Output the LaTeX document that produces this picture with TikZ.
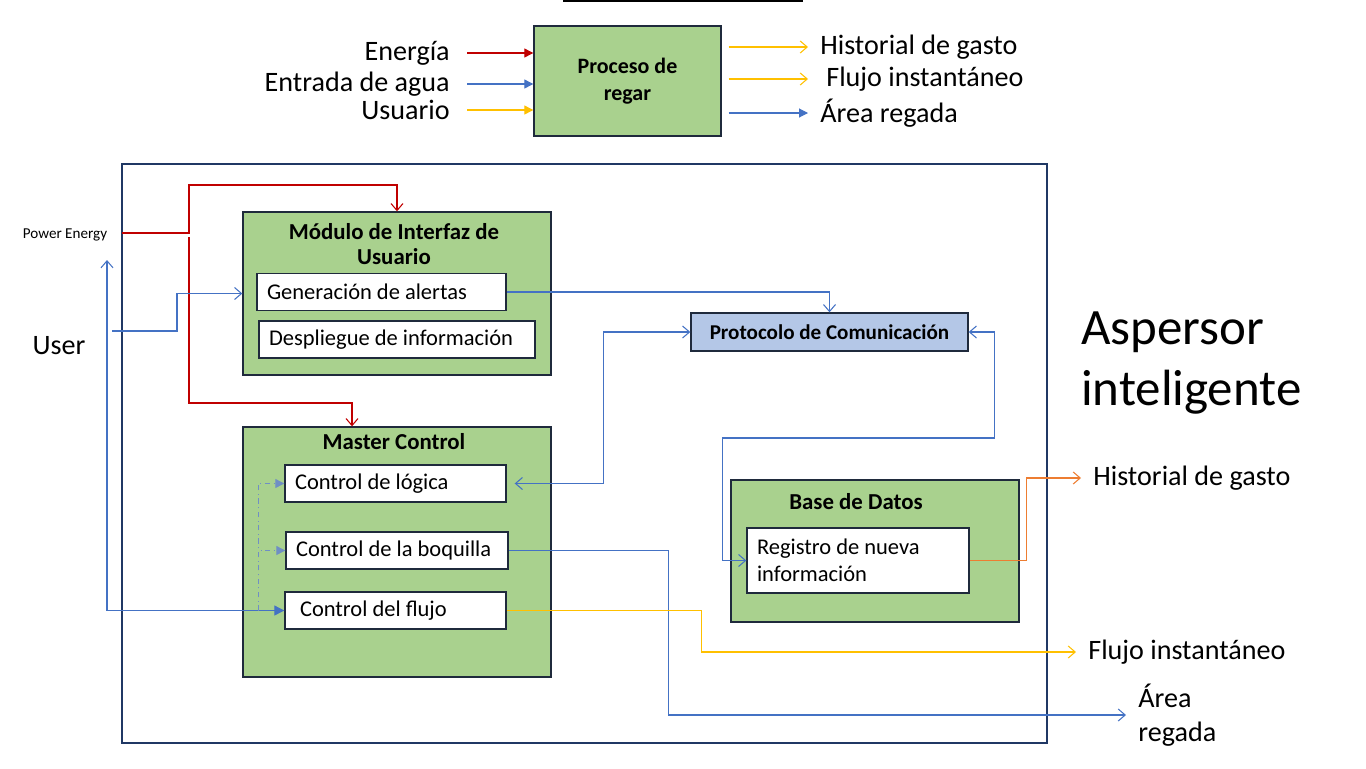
\documentclass[tikz,border=0pt]{standalone}
\usepackage{fontspec}
\setmainfont{Carlito}
\usetikzlibrary{arrows.meta, positioning}
\definecolor{Box_Green}{HTML}{A9D18E}
\definecolor{Box_Blue}{HTML}{B4C7E7}
\definecolor{Box_Border}{HTML}{1F2A3C}
\definecolor{Frame_Navy}{HTML}{203864}
\definecolor{Line_Blue}{HTML}{4472C4}
\definecolor{Line_Dash}{HTML}{6F8FC4}
\definecolor{Line_Red}{HTML}{C00000}
\definecolor{Line_Yellow}{HTML}{FFC000}
\definecolor{Line_Orange}{HTML}{ED7D31}

\begin{document}
\begin{tikzpicture}[
  x=0.02cm, y=-0.02cm,
  font=\fontsize{12.8}{15.4}\selectfont,
  greenbox/.style={draw=Box_Border, line width=0.8pt, fill=Box_Green},
  subbox/.style={draw=Box_Border, line width=0.8pt, fill=white, minimum height=0.74cm, inner xsep=0.2cm, align=flush left},
  boxtitle/.style={font=\fontsize{13}{14.7}\selectfont\bfseries, align=center},
  biglbl/.style={font=\fontsize{16}{19}\selectfont},
  inlbl/.style={biglbl, anchor=east, inner xsep=0.34cm},
  outlbl/.style={biglbl, anchor=west, inner xsep=0.24cm, align=left},
  conn/.style={line width=0.6pt},
  open tip/.style={-{Straight Barb[length=1.4mm,width=2.4mm]}},
  fill tip/.style={-{Triangle[length=1.8mm,width=1.8mm]}},
  open both/.style={{Straight Barb[length=1.4mm,width=2.4mm]}-{Straight Barb[length=1.4mm,width=2.4mm]}},
  open fill/.style={{Straight Barb[length=1.4mm,width=2.4mm]}-{Triangle[length=2mm,width=2mm]}},
]
\useasboundingbox (0,0) rectangle (1366,768);

% --- title rule (cut at the top) ---
\draw[line width=1.2pt] (563,1) -- (803,1);

% --- (a) Proceso de regar ---
\node[greenbox, minimum width=3.74cm, minimum height=2.2cm, font=\fontsize{12.5}{15.3}\selectfont\bfseries, align=center] (proc) at (627.5,81) {Proceso de\\regar};

\foreach \name/\txt/\y/\col in {
  energia/Energía/53/Line_Red,
  agua/Entrada de agua/84/Line_Blue,
  usuario/Usuario/110/Line_Yellow}
{
  \node[inlbl] (\name) at (467,\y) {\txt};
  \draw[conn, \col, fill tip] (\name.east) -- (\name.east -| proc.west);
}

\node[outlbl] (histtop) at (808,47) {Historial de gasto};
\node[outlbl] (flujotop) at (814,79) {Flujo instantáneo};
\node[outlbl] (areatop) at (808,113) {Área regada};
\draw[conn, Line_Yellow, open tip, shorten <=0.14cm] (proc.east |- histtop.west) -- (histtop.west);
\draw[conn, Line_Yellow, open tip, shorten <=0.14cm] (proc.east |- flujotop.west) -- ([xshift=-0.12cm]flujotop.west);
\draw[conn, Line_Blue, fill tip, shorten <=0.14cm] (proc.east |- areatop.west) -- (areatop.west);

% --- (b) Aspersor inteligente ---
\draw[Frame_Navy, line width=0.6pt] (122,164) rectangle (1047,743);

\node[font=\fontsize{8.6}{10}\selectfont] (power) at (65,235) {Power Energy};
\node[biglbl] (user) at (59,346) {User};
\node[font=\fontsize{29}{35}\selectfont, align=left, anchor=west] (aspersor) at (1075,363) {Aspersor\\inteligente};

% Modulo de interfaz
\node[greenbox, minimum width=6.16cm, minimum height=3.26cm] (modulo) at (397,293.5) {};
\node[boxtitle] (modtitle) at (394,244) {Módulo de Interfaz de\\Usuario};
\node[subbox, text width=4.58cm] (gen) at (381.5,292) {Generación de alertas};
\node[subbox, text width=5.12cm] (desp) at (397,339.5) {Despliegue de información};

% Master control
\node[greenbox, minimum width=6.16cm, minimum height=5cm] (master) at (397,552) {};
\node[boxtitle] (mastitle) at (394,442) {Master Control};
\node[subbox, text width=4.02cm] (logica) at (395.5,483.5) {Control de lógica};
\node[subbox, text width=4.04cm] (boquilla) at (397,550.5) {Control de la boquilla};
\node[subbox, text width=3.82cm, inner xsep=0.3cm] (flujo) at (395.5,610.5) {Control del flujo};

% Protocolo y base de datos
\node[draw=Box_Border, line width=0.8pt, fill=Box_Blue, minimum width=5.54cm, minimum height=0.76cm, font=\fontsize{12}{14}\selectfont\bfseries] (proto) at (829.5,332) {Protocolo de Comunicación};
\node[greenbox, minimum width=5.76cm, minimum height=2.84cm] (base) at (875,551) {};
\node[boxtitle] (bastitle) at (856,502) {Base de Datos};
\node[subbox, text width=4.04cm, minimum height=1.3cm] (registro) at (858,560.5) {Registro de nueva\\información};

% salidas
\node[outlbl] (histout) at (1081,478) {Historial de gasto};
\node[outlbl] (flujoout) at (1076,652) {Flujo instantáneo};
\node[outlbl] (areaout) at (1126,715) {Área\\regada};

% power
\coordinate (pwrin) at (122,233);
\coordinate (pwrsplit) at (189,233);
\draw[conn, Line_Red, open tip] (pwrin) -- (pwrsplit) -- ++(0,-48) -| (modulo.north);
\draw[conn, Line_Red, open tip] ([yshift=-0.08cm]pwrsplit) -- ++(0,166) -| ([xshift=-0.9cm]master.north);

% user
\coordinate (userin) at (112,331);
\coordinate (userup) at (107,260);
\draw[conn, Line_Blue, open tip] (userin) -- ++(65,0) |- (modulo.west);
\draw[conn, Line_Blue, open fill] (userup) |- (flujo.west);

% communication
\draw[conn, Line_Blue, open tip] (gen.east) -| (proto.north);
\draw[conn, Line_Blue, open both] (proto.west) -- ++(-87,0) |- ([xshift=0.16cm]logica.east);
\draw[conn, Line_Blue, open both] (proto.east) -- ++(26,0) -- ++(0,106) -- ++(-272,0) |- (registro.west);

% internal control
\draw[conn, Line_Dash, dash dot, fill tip] ([xshift=-0.52cm]flujo.west) |- (logica.west);
\draw[conn, Line_Dash, dash dot, fill tip] ([xshift=-0.52cm]flujo.west) |- (boquilla.west);

% outputs
\draw[conn, Line_Blue, open tip] (boquilla.east) -- ++(160,0) |- (areaout.west);
\draw[conn, Line_Yellow, open tip] (flujo.east) -- ++(195,0) |- (flujoout.west);
\draw[conn, Line_Orange, open tip] (registro.east) -- ++(57,0) |- (histout.west);

\end{tikzpicture}
\end{document}
